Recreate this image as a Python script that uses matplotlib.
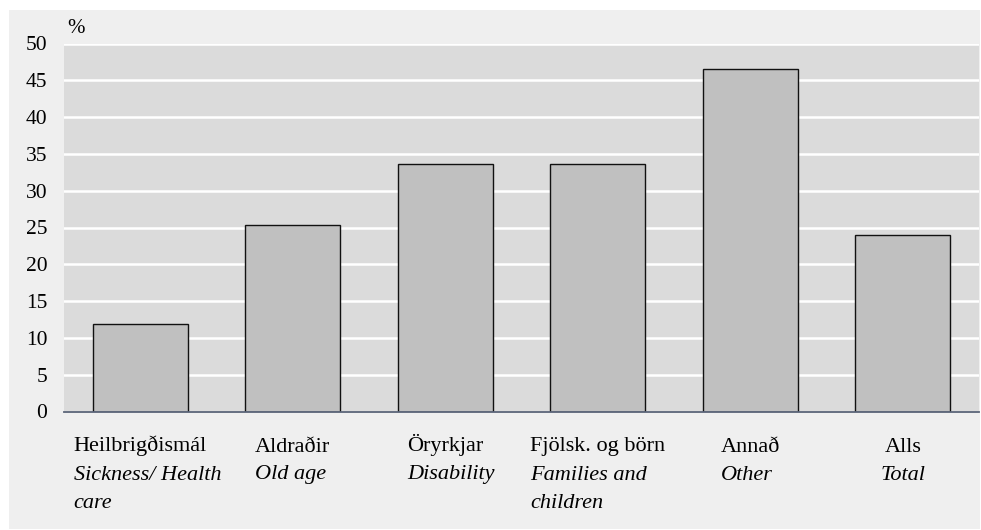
import matplotlib
matplotlib.use("Agg")
import matplotlib.pyplot as plt
from matplotlib.patches import Rectangle
from matplotlib.transforms import blended_transform_factory

# Data
categories_is = ["Heilbrigðismál", "Aldraðir", "Öryrkjar", "Fjölsk. og börn", "Annað", "Alls"]
categories_en = [["Sickness/ Health", "care"], ["Old age"], ["Disability"],
                 ["Families and", "children"], ["Other"], ["Total"]]
values = [11.9, 25.4, 33.6, 33.6, 46.6, 24.0]
yticks = [0, 5, 10, 15, 20, 25, 30, 35, 40, 45, 50]

W, H = 981, 530
DPI = 100
plt.rcParams['font.family'] = ['Liberation Serif', 'DejaVu Serif']

fig = plt.figure(figsize=(W / DPI, H / DPI), dpi=DPI, facecolor="white")

def px(x, y_top):
    return x / W, (H - y_top) / H

# outer light panel
fig.patches.append(Rectangle(px(9, 529), (980 - 9) / W, (529 - 10) / H,
                             transform=fig.transFigure, facecolor="#efefef",
                             edgecolor="none", zorder=-10))

left, right, top, bottom = 64, 979, 43.5, 411.5
ax = fig.add_axes([left / W, (H - bottom) / H, (right - left) / W, (bottom - top) / H])
ax.set_zorder(1)
ax.set_facecolor("#dbdbdb")

x = list(range(len(values)))
ax.bar(x, values, width=0.62, color="#c0c0c0", edgecolor="#111111", linewidth=1.0, zorder=3)

ax.set_ylim(0, 50)
ax.set_xlim(-0.5, len(values) - 0.5)
ax.set_yticks(yticks)
ax.set_yticklabels([str(v) for v in yticks], fontsize=15.5)
ax.tick_params(axis="y", length=0, pad=12)
ax.tick_params(axis="x", length=0, labelbottom=False)
ax.yaxis.grid(True, color="white", linewidth=1.8, zorder=1)
ax.set_axisbelow(True)
for s in ["top", "right", "left"]:
    ax.spines[s].set_visible(False)
ax.spines["bottom"].set_color("#5a6478")
ax.spines["bottom"].set_linewidth(1.3)
ax.spines["bottom"].set_zorder(4)

# % label
fig.text(*px(67, 33), "%", fontsize=15, ha="left", va="baseline")

# category labels
trans = blended_transform_factory(ax.transData, fig.transFigure)
first_lines = []
for i, name in enumerate(categories_is):
    t = ax.text(i, (H - 451.5) / H, name, transform=trans, ha="center", va="baseline",
                fontsize=16, clip_on=False)
    first_lines.append(t)

fig.canvas.draw()
renderer = fig.canvas.get_renderer()
for i, t in enumerate(first_lines):
    bb = t.get_window_extent(renderer)
    x0 = bb.x0 / W
    for j, line in enumerate(categories_en[i]):
        yb = 479.5 + 28 * j
        if categories_is[i] == "Alls":
            fig.text((bb.x0 + bb.x1) / 2 / W, (H - yb) / H, line, fontsize=16,
                     style="italic", ha="center", va="baseline")
        else:
            fig.text(x0, (H - yb) / H, line, fontsize=16, style="italic",
                     ha="left", va="baseline")

fig.savefig("out.png", dpi=DPI, facecolor="white")
